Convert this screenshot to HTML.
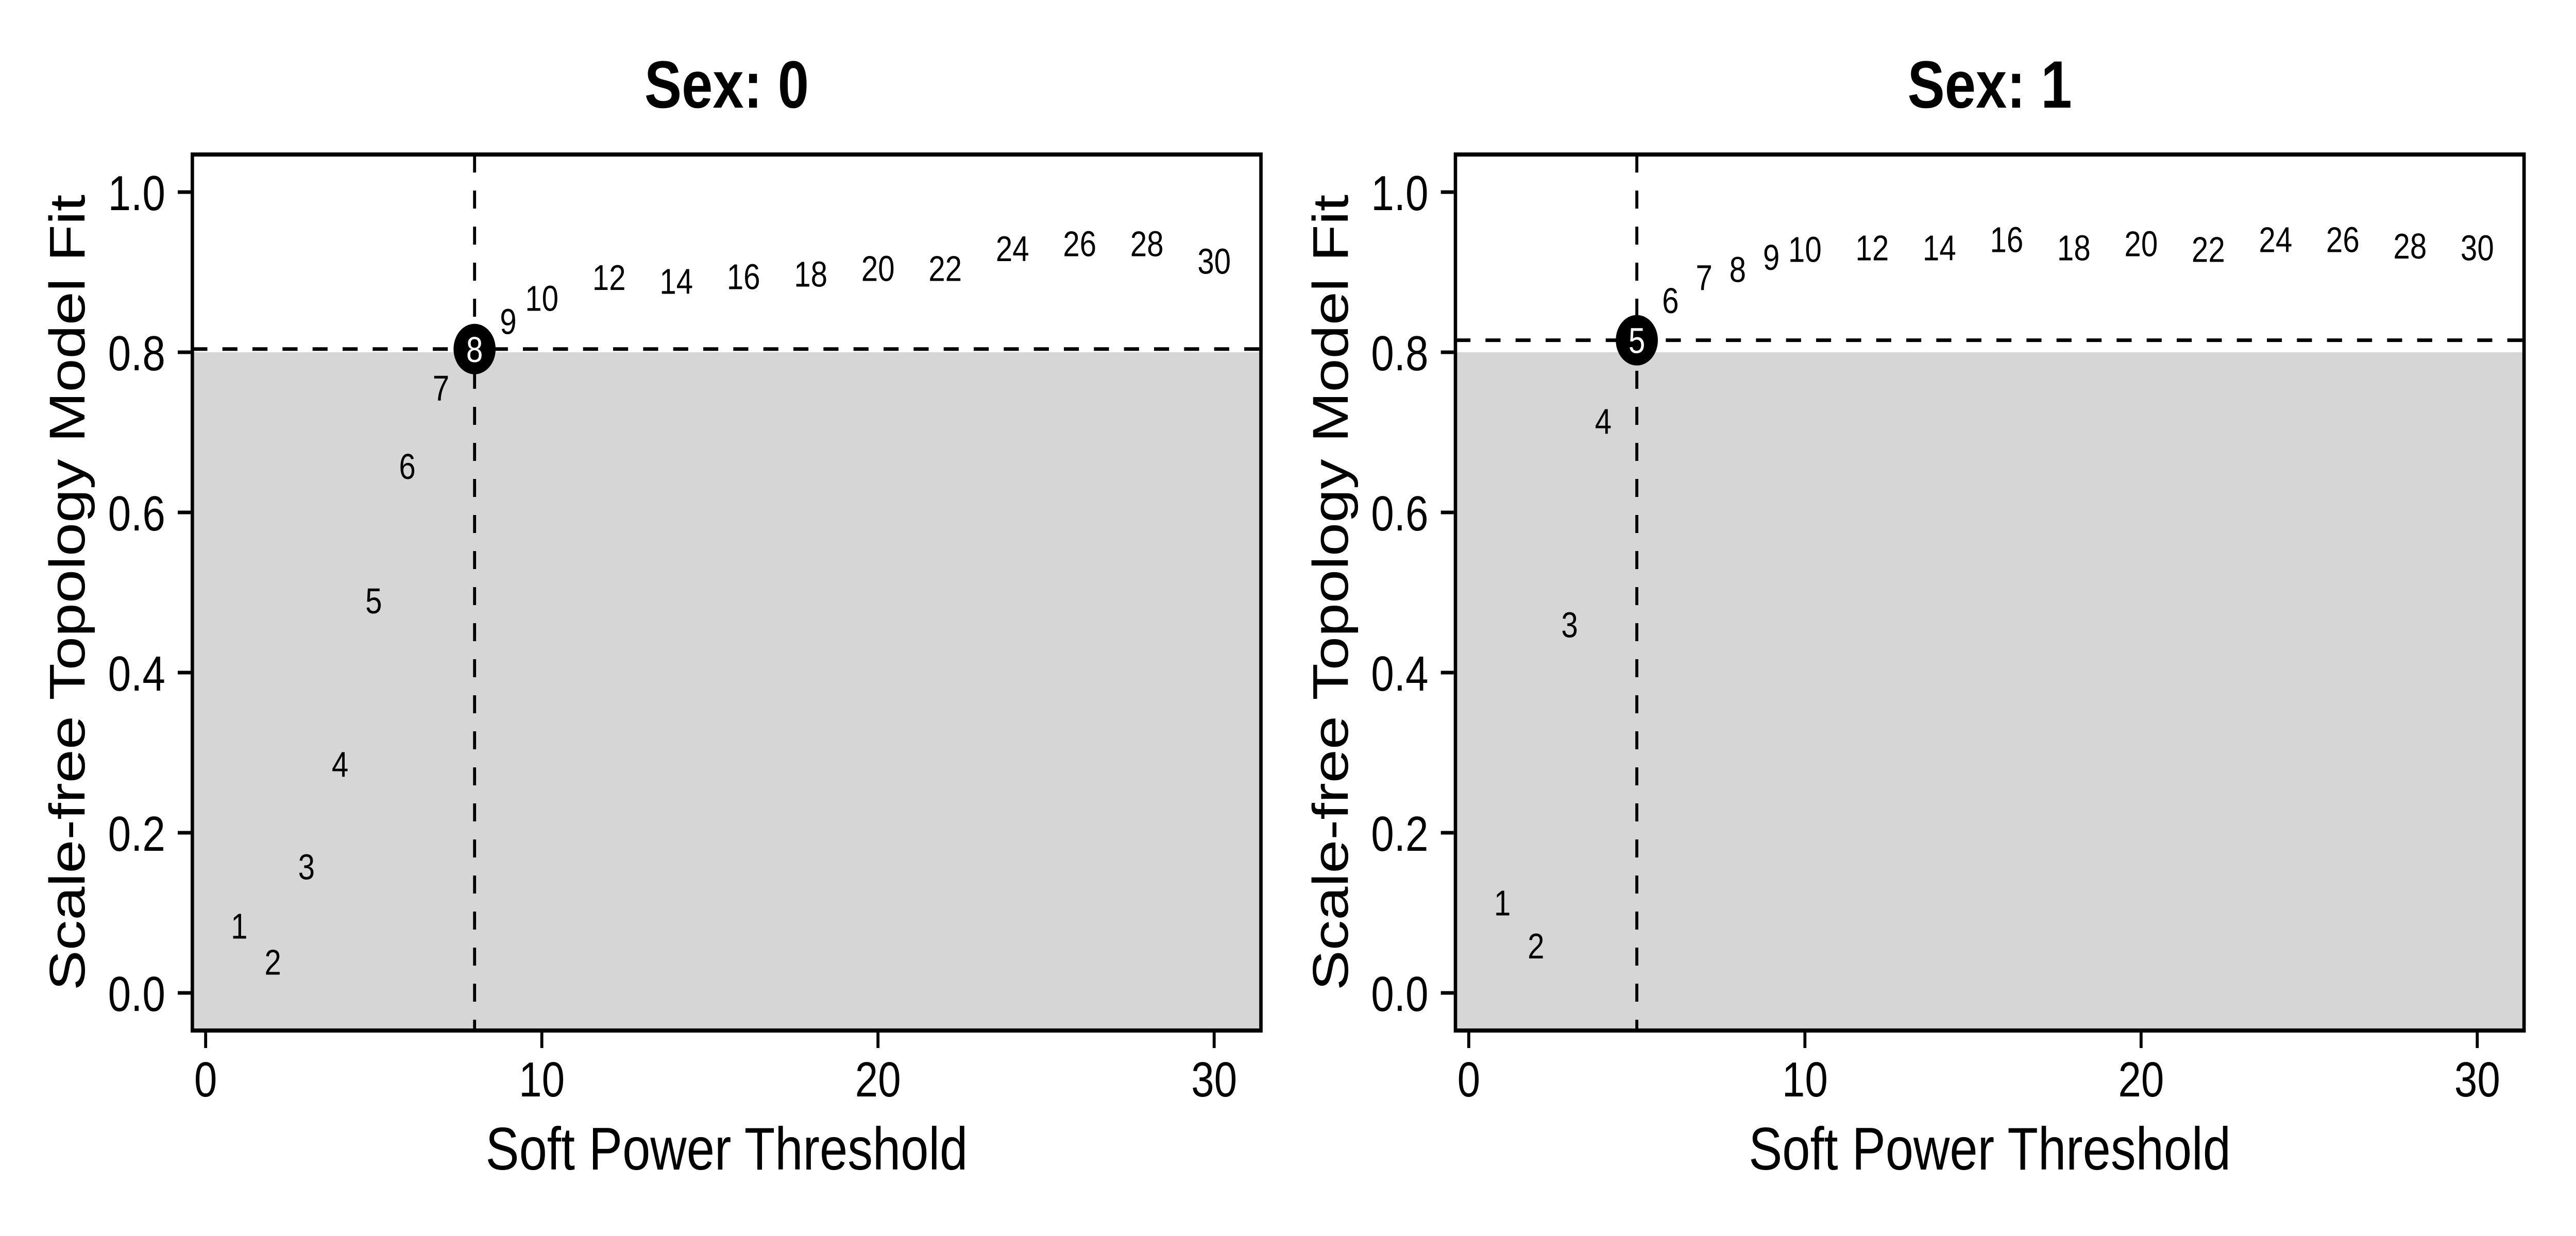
<!DOCTYPE html>
<html><head><meta charset="utf-8"><style>
html,body{margin:0;padding:0;background:#fff;overflow:hidden;width:100%;height:100%;}
svg{display:block;width:100vw;height:100vh;font-family:"Liberation Sans",Arial,sans-serif;}
</style></head><body>
<svg id="chart" viewBox="0 0 6000 2400" preserveAspectRatio="none" xmlns="http://www.w3.org/2000/svg"><g id="root"></g></svg>
<script>
const powers = [1,2,3,4,5,6,7,8,9,10,12,14,16,18,20,22,24,26,28,30];
const fitSex0 = [0.084,0.039,0.158,0.286,0.49,0.658,0.756,0.804,0.839,0.868,0.894,0.889,0.895,0.898,0.905,0.905,0.930,0.936,0.936,0.914];
const fitSex1 = [0.113,0.059,0.46,0.714,0.815,0.865,0.894,0.904,0.919,0.929,0.931,0.931,0.941,0.931,0.936,0.929,0.941,0.941,0.933,0.931];
const selectedPower = [8,5];
const panelTitles = ["Sex: 0","Sex: 1"];
const xTicks = [0,10,20,30];
const yTicks = [0,0.2,0.4,0.6,0.8,1.0];
const yTickLabels = ["0.0","0.2","0.4","0.6","0.8","1.0"];
const cutoff = 0.8;

const NS = "http://www.w3.org/2000/svg";
const svg = document.getElementById('root');
function mk(tag, attrs, parent, text){
  const e = document.createElementNS(NS, tag);
  for (const k in attrs) e.setAttribute(k, attrs[k]);
  if (text !== undefined) e.textContent = text;
  parent.appendChild(e);
  return e;
}
const series = [fitSex0, fitSex1];
const offsets = [0, 2942];
for (let p = 0; p < 2; p++) {
  const off = offsets[p];
  const L = 448 + off, R = 2937 + off, T = 300, B = 2001;
  const xs = v => 479 + off + v * 78.3;
  const ys = v => 1928 - v * 1555;
  const g = mk('g', {}, svg);
  
  
  const bg = mk('rect', {x:L, y:ys(cutoff), width:R-L, height:B-ys(cutoff), fill:'#d6d6d6'}, g);
  
  
  const sel = selectedPower[p];
  const selVal = series[p][powers.indexOf(sel)];
  const vl = mk('line', {x1:xs(sel), x2:xs(sel), y1:T, y2:B, stroke:'#000', 'stroke-width':7, 'stroke-dasharray':'35 35'}, g);
  
  
  const hl = mk('line', {x1:L, x2:R, y1:ys(selVal), y2:ys(selVal), stroke:'#000', 'stroke-width':7, 'stroke-dasharray':'35 35'}, g);
  
  
  powers.forEach((pw, i) => {
    const v = series[p][i];
    if (pw === sel) {
      const c = mk('circle', {cx:xs(pw), cy:ys(v), r:49, fill:'#000'}, g);
      
      
      const t = mk('text', {x:xs(pw), y:ys(v)+25, 'font-size':70, 'text-anchor':'middle', fill:'#fff'}, g, String(pw));
      
      
    } else {
      const t = mk('text', {x:xs(pw), y:ys(v)+25, 'font-size':70, 'text-anchor':'middle', fill:'#000'}, g, String(pw));
      
      
    }
  });
  const fr = mk('rect', {x:L, y:T, width:R-L, height:B-T, fill:'none', stroke:'#000', 'stroke-width':8}, g);
  
  
  xTicks.forEach(v => {
    const tk = mk('line', {x1:xs(v), x2:xs(v), y1:B+4, y2:B+34, stroke:'#000', 'stroke-width':7}, g);
    
    
    const tl = mk('text', {x:xs(v), y:2129, 'font-size':96, 'text-anchor':'middle', fill:'#000'}, g, String(v));
    
    
  });
  yTicks.forEach((v, i) => {
    const tk = mk('line', {x1:L-34, x2:L-4, y1:ys(v), y2:ys(v), stroke:'#000', 'stroke-width':7}, g);
    
    
    const tl = mk('text', {x:L-63, y:ys(v)+35, 'font-size':96, 'text-anchor':'end', fill:'#000'}, g, yTickLabels[i]);
    
    
  });
  const xt = mk('text', {x:(L+R)/2, y:2271, 'font-size':117, 'text-anchor':'middle', fill:'#000'}, g, 'Soft Power Threshold');
  
  
  const yx = 197 + off, yy = (T+B)/2;
  const yt = mk('text', {x:yx, y:yy, 'font-size':117, 'text-anchor':'middle', fill:'#000', transform:'rotate(-90 '+yx+' '+yy+')'}, g, 'Scale-free Topology Model Fit');
  
  
  const tt = mk('text', {x:(L+R)/2, y:209, 'font-size':130, 'font-weight':'bold', 'text-anchor':'middle', fill:'#000'}, g, panelTitles[p]);
  
  
}
</script>
</body></html>
